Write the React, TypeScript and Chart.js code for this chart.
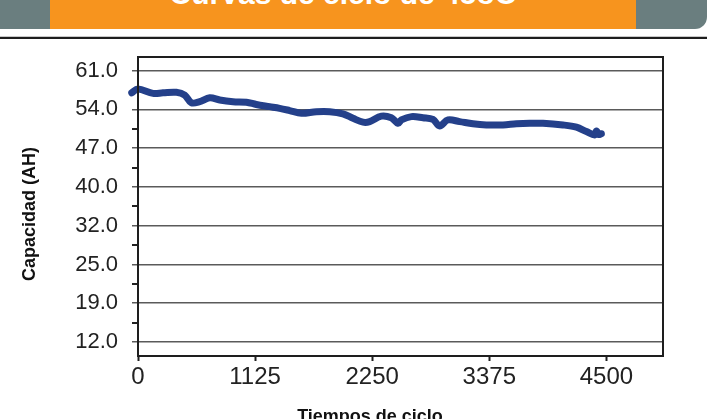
import React, { useEffect, useRef } from "react";
import { Chart, registerables } from "chart.js";

Chart.register(...registerables);

const headerTitle = "Curvas de ciclo de 45oC";
const xAxisTitle = "Tiempos de ciclo";
const yAxisTitle = "Capacidad (AH)";

const xTickValues = [0, 1125, 2250, 3375, 4500];
const yMajorValues = [12, 19, 26, 33, 40, 47, 54, 61];
const yTickLabels = ["12.0", "19.0", "25.0", "32.0", "40.0", "47.0", "54.0", "61.0"];

const cycles = [
  -60, 0, 144, 240, 369, 449, 513, 593, 689, 785, 913, 1041, 1137, 1265, 1361,
  1457, 1570, 1714, 1842, 1969, 2066, 2162, 2226, 2338, 2434, 2498, 2530, 2627,
  2738, 2834, 2898, 2978, 3090, 3218, 3347, 3507, 3635, 3763, 3891, 4083, 4212,
  4308, 4388, 4405, 4425, 4452,
];
const capacity = [
  57.0, 57.7, 56.9, 57.0, 57.1, 56.6, 55.2, 55.4, 56.1, 55.7, 55.4, 55.3, 54.9,
  54.5, 54.2, 53.8, 53.3, 53.6, 53.6, 53.2, 52.4, 51.7, 51.8, 52.8, 52.5, 51.5,
  52.1, 52.7, 52.5, 52.2, 51.0, 52.1, 51.8, 51.4, 51.2, 51.2, 51.4, 51.5, 51.5,
  51.2, 50.8, 50.0, 49.4, 50.1, 49.5, 49.6,
];

const FONT = '"Liberation Sans", Arial, Helvetica, sans-serif';

export default function App() {
  const ref = useRef<HTMLCanvasElement | null>(null);

  useEffect(() => {
    if (!ref.current) return;
    const minorValues = yMajorValues
      .slice(0, -1)
      .map((v, i) => (v + yMajorValues[i + 1]) / 2);
    const allY = [...yMajorValues, ...minorValues].sort((a, b) => a - b);
    const isMajor = (v: number) => yMajorValues.indexOf(v) >= 0;

    const framePlugin = {
      id: "frameAndTitles",
      afterDraw(chart: any) {
        const { ctx, chartArea: a } = chart;
        ctx.save();
        ctx.strokeStyle = "#1e1e1e";
        ctx.lineWidth = 2;
        ctx.strokeRect(a.left, a.top, a.right - a.left, a.bottom - a.top);
        ctx.fillStyle = "#111";
        ctx.font = `bold 18px ${FONT}`;
        ctx.textAlign = "center";
        ctx.textBaseline = "alphabetic";
        ctx.fillText(xAxisTitle, 370, 422);
        ctx.translate(35, 214);
        ctx.rotate(-Math.PI / 2);
        ctx.fillText(yAxisTitle, 0, 0);
        ctx.restore();
      },
    };

    const chart = new Chart(ref.current, {
      type: "line",
      data: {
        datasets: [
          {
            data: cycles.map((c, i) => ({ x: c, y: capacity[i] })),
            borderColor: "#24408a",
            borderWidth: 7,
            pointRadius: 0,
            tension: 0.35,
            borderCapStyle: "round",
            borderJoinStyle: "round",
            fill: false,
            clip: false as any,
          },
        ],
      },
      options: {
        animation: false,
        responsive: false,
        events: [],
        layout: { padding: { top: 57, right: 44, bottom: 0, left: 0 } },
        plugins: {
          legend: { display: false },
          tooltip: { enabled: false },
          title: { display: false },
        },
        scales: {
          x: {
            type: "linear",
            min: 0,
            max: 5044,
            afterBuildTicks: (scale: any) => {
              scale.ticks = xTickValues.map((v) => ({ value: v }));
            },
            afterFit: (scale: any) => {
              scale.height = 63;
            },
            border: { display: false },
            grid: {
              drawOnChartArea: false,
              drawTicks: true,
              tickLength: 5,
              tickColor: "#1e1e1e",
              tickWidth: 2,
            },
            ticks: {
              autoSkip: false,
              maxRotation: 0,
              padding: 2,
              color: "#222",
              font: { family: FONT, size: 24 },
              callback: (v: any) => String(v),
            },
          },
          y: {
            type: "linear",
            min: 9.47,
            max: 63.47,
            afterBuildTicks: (scale: any) => {
              scale.ticks = allY.map((v) => ({ value: v }));
            },
            afterFit: (scale: any) => {
              scale.width = 138;
            },
            border: { display: false },
            grid: {
              color: (c: any) => (isMajor(c.tick.value) ? "#5a5a5a" : "rgba(0,0,0,0)"),
              lineWidth: (c: any) => (isMajor(c.tick.value) ? 1.5 : 0),
              tickColor: (c: any) => (isMajor(c.tick.value) ? "#5a5a5a" : "#222"),
              tickWidth: (c: any) => (isMajor(c.tick.value) ? 1.5 : 2),
              tickLength: 6,
              drawTicks: true,
            },
            ticks: {
              autoSkip: false,
              padding: 14,
              color: "#222",
              font: { family: FONT, size: 22 },
              callback: (v: any) => {
                const idx = yMajorValues.indexOf(Number(v));
                return idx >= 0 ? yTickLabels[idx] : "";
              },
            },
          },
        },
      },
      plugins: [framePlugin],
    } as any);

    return () => chart.destroy();
  }, []);

  return (
    <div
      style={{
        position: "fixed",
        left: 0,
        top: 0,
        width: 707,
        height: 419,
        background: "#fff",
        overflow: "hidden",
      }}
    >
      <div
        style={{
          position: "absolute",
          left: 0,
          top: 0,
          width: 707,
          height: 29,
          background: "#6a7e7f",
          borderBottomRightRadius: 12,
        }}
      />
      <div
        style={{
          position: "absolute",
          left: 50,
          top: 0,
          width: 586,
          height: 29,
          background: "#f7941e",
          overflow: "hidden",
        }}
      >
        <div
          style={{
            position: "absolute",
            left: 0,
            right: 0,
            top: -21.4,
            textAlign: "center",
            font: `bold 30px ${FONT}`,
            lineHeight: "30px",
            color: "#fff",
            whiteSpace: "nowrap",
          }}
        >
          {headerTitle}
        </div>
      </div>
      <div
        style={{ position: "absolute", left: 0, top: 36, width: 707, height: 1, background: "#c8c8c8" }}
      />
      <div
        style={{ position: "absolute", left: 0, top: 37, width: 707, height: 2, background: "#1e1e1e" }}
      />
      <canvas
        ref={ref}
        width={707}
        height={419}
        style={{ position: "absolute", left: 0, top: 0, width: 707, height: 419 }}
      />
    </div>
  );
}
